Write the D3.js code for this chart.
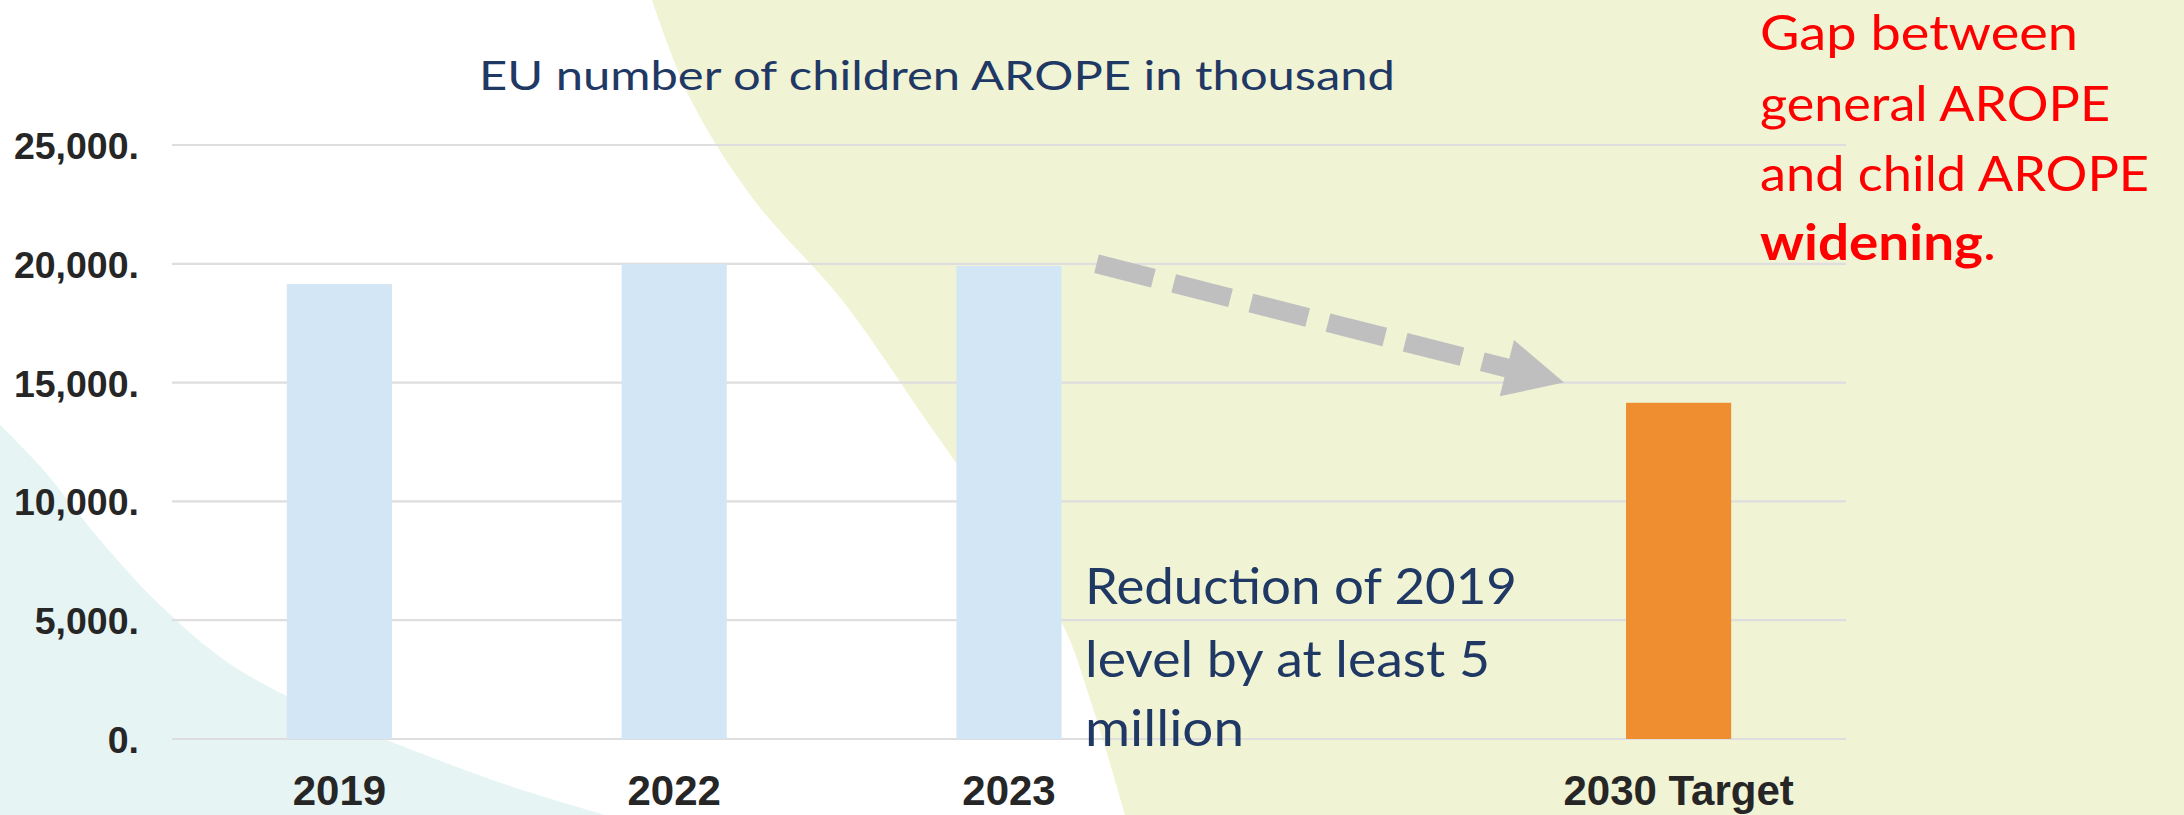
<!DOCTYPE html>
<html>
<head>
<meta charset="utf-8">
<script src="https://cdn.jsdelivr.net/npm/d3@7"></script>
<style>
  html, body { margin: 0; padding: 0; background: #ffffff; }
  svg { display: block; }
</style>
</head>
<body>
<svg id="chart" width="2184" height="815"></svg>
<script>
// ---- data ----
const categories = ["2019", "2022", "2023", "", "2030 Target"];
const values = [19150, 20000, 19910, null, 14150];
const barColors = ["#D3E6F6", "#D3E6F6", "#D3E6F6", null, "#EE8E31"];
const yTicks = [0, 5000, 10000, 15000, 20000, 25000];
const titleText = "EU number of children AROPE in thousand";
const noteLines = ["Reduction of 2019", "level by at least 5", "million"];
const gapLines = ["Gap between", "general AROPE", "and child AROPE"];
const gapBold = "widening";
const arrowFrom = { cat: "2023", value: 20000 };
const arrowTo = { cat: "2030 Target", value: 15000 };

// ---- layout ----
const W = 2184, H = 815;
const svg = d3.select("#chart");

const x = d3.scaleBand().domain(categories).range([172, 1846])
  .paddingInner(0.686).paddingOuter(0.343);
const y = d3.scaleLinear().domain([0, 25000]).range([739, 145]);

// ---- background shapes ----
const bg = svg.append("g");
bg.append("rect").attr("width", W).attr("height", H).attr("fill", "#ffffff");

const curve = d3.line().curve(d3.curveCatmullRom.alpha(0.5));
const tealEdge = [[0,425],[40,466],[100,540],[160,605],[230,664],[320,712],[420,753],[510,786],[605,815]];
bg.append("path")
  .attr("d", curve(tealEdge) + "L0,815Z")
  .attr("fill", "#E6F4F3");

const yellowEdge = [[652,0],[691,100],[754,200],[842,300],[926,420],[954,460],[1010,545],[1062,623],[1092,705],[1125,815]];
bg.append("path")
  .attr("d", curve(yellowEdge) + "L" + W + ",815L" + W + ",0Z")
  .attr("fill", "#F0F3D4");

// ---- gridlines ----
svg.append("g")
  .selectAll("line")
  .data(yTicks)
  .join("line")
  .attr("x1", 172).attr("x2", 1846)
  .attr("y1", d => y(d)).attr("y2", d => y(d))
  .attr("stroke", "#DEDEDE")
  .attr("stroke-width", 2.2);

// ---- bars ----
const barData = categories.map((c, i) => ({ c, v: values[i], col: barColors[i] }))
  .filter(d => d.v != null);
svg.append("g")
  .selectAll("rect")
  .data(barData)
  .join("rect")
  .attr("x", d => x(d.c))
  .attr("width", x.bandwidth())
  .attr("y", d => y(d.v))
  .attr("height", d => y(0) - y(d.v))
  .attr("fill", d => d.col);

// ---- axes ----
const yAxis = svg.append("g")
  .attr("transform", "translate(172,0)")
  .call(d3.axisLeft(y).tickValues(yTicks).tickSize(0).tickPadding(33)
    .tickFormat(d => d3.format(",")(d) + "."));
yAxis.select(".domain").remove();
yAxis.selectAll("text")
  .attr("font-family", "'Liberation Sans', Arial, sans-serif")
  .attr("font-weight", "bold")
  .attr("font-size", 37.5)
  .attr("fill", "#262626")
  .attr("dy", "0.36em");

const xAxis = svg.append("g")
  .attr("transform", "translate(0,739)")
  .call(d3.axisBottom(x).tickSize(0).tickPadding(36));
xAxis.select(".domain").remove();
xAxis.selectAll("text")
  .attr("font-family", "'Liberation Sans', Arial, sans-serif")
  .attr("font-weight", "bold")
  .attr("font-size", 42)
  .attr("fill", "#262626");

// ---- arrow ----
const bw = x.bandwidth();
const start = [x(arrowFrom.cat) + bw + 35, y(arrowFrom.value)];
const tip = [x(arrowTo.cat) - 62, y(arrowTo.value)];
const dx = tip[0] - start[0], dy = tip[1] - start[1];
const len = Math.hypot(dx, dy);
const ux = dx / len, uy = dy / len;
const headLen = 59, headHalf = 29;
const base = [tip[0] - ux * headLen, tip[1] - uy * headLen];
svg.append("line")
  .attr("x1", start[0]).attr("y1", start[1])
  .attr("x2", base[0] + ux * 2).attr("y2", base[1] + uy * 2)
  .attr("stroke", "#BFBFBF")
  .attr("stroke-width", 19)
  .attr("stroke-dasharray", "58.6 21");
svg.append("polygon")
  .attr("points", [
    tip,
    [base[0] - uy * headHalf, base[1] + ux * headHalf],
    [base[0] + uy * headHalf, base[1] - ux * headHalf]
  ].map(p => p.join(",")).join(" "))
  .attr("fill", "#BFBFBF");

// ---- texts ----
const humanist = "Lato, 'Open Sans', 'Noto Sans', sans-serif";

svg.append("text")
  .attr("x", 479).attr("y", 89.5)
  .attr("font-family", humanist)
  .attr("font-size", 40)
  .attr("fill", "#1F3864")
  .attr("textLength", 916)
  .attr("lengthAdjust", "spacingAndGlyphs")
  .text(titleText);

const noteBase = [604, 676.5, 746];
const noteLen = [432, 405, 159];
svg.append("g").selectAll("text")
  .data(noteLines)
  .join("text")
  .attr("x", 1085)
  .attr("y", (d, i) => noteBase[i])
  .attr("font-family", humanist)
  .attr("font-size", 51)
  .attr("fill", "#1F3864")
  .attr("textLength", (d, i) => noteLen[i])
  .attr("lengthAdjust", "spacingAndGlyphs")
  .text(d => d);

const gapBase = [49.5, 120.5, 190.5, 260];
const gapLen = [318, 350, 389];
svg.append("g").selectAll("text")
  .data(gapLines)
  .join("text")
  .attr("x", 1760)
  .attr("y", (d, i) => gapBase[i])
  .attr("font-family", humanist)
  .attr("font-size", 49)
  .attr("fill", "#FF0000")
  .attr("textLength", (d, i) => gapLen[i])
  .attr("lengthAdjust", "spacingAndGlyphs")
  .text(d => d);
const wt = svg.append("text")
  .attr("x", 1760).attr("y", gapBase[3])
  .attr("font-family", humanist)
  .attr("font-size", 49)
  .attr("fill", "#FF0000")
  .attr("textLength", 236)
  .attr("lengthAdjust", "spacingAndGlyphs");
wt.append("tspan").attr("font-weight", "bold").text(gapBold);
wt.append("tspan").text(".");
</script>
</body>
</html>
